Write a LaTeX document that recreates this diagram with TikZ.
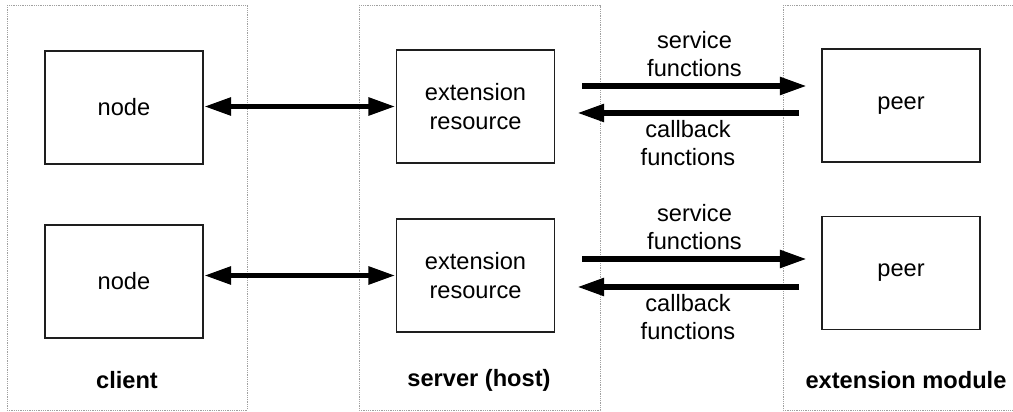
\documentclass[tikz,border=0pt]{standalone}
\usepackage{fontspec}
\setmainfont{Liberation Sans}
\usetikzlibrary{arrows.meta, positioning}
\definecolor{cline}{HTML}{1E1E1E}
\definecolor{cpanel}{HTML}{A0A0A0}
\tikzset{
  every picture/.style={font=\fontsize{16.8}{21}\selectfont, line width=1.2pt},
  box/.style={draw=cline, minimum width=3.95cm, minimum height=2.825cm, align=center, inner sep=0pt},
  panel/.style={draw=cpanel, line width=0.6pt, dash pattern=on 0.8pt off 0.8pt},
  arrow/.style={-{Triangle[length=0.68cm, width=0.42cm]}, draw=black, line width=4.2pt},
  biarrow/.style={{Triangle[length=0.68cm, width=0.42cm]}-{Triangle[length=0.68cm, width=0.42cm]}, draw=black, line width=4.2pt},
  title/.style={font=\fontsize{16.8}{21}\selectfont\bfseries},
  note/.style={align=center, inner sep=0pt, font=\fontsize{16.8}{19.5}\selectfont},
}
\begin{document}
\begin{tikzpicture}[x=0.025cm, y=-0.025cm]
  \path[use as bounding box, clip] (0,0) rectangle (1013,412);
  % panels
  \draw[panel] (7,5) rectangle (247,410);
  \draw[panel] (359,5) rectangle (600,410);
  \draw[panel] (783,5) rectangle (1040,410);
  \node[title] (client) at (127,380) {client};
  \node[title] (server) at (479,380) {server (host)};
  \node[title] (module) at (906,380) {extension module};
  % boxes
  \node[box] (node1) at (124,107.5) {node};
  \node[box] (node2) at (124,281.5) {node};
  \node[box] (res1) at (475.5,106.5) {extension\\resource};
  \node[box] (res2) at (475.5,275.5) {extension\\resource};
  \node[box] (peer1) at (901,105.5) {peer};
  \node[box] (peer2) at (901,273) {peer};
  \foreach \i/\ys/\yc in {1/86/113, 2/259/287} {
    \draw[biarrow] (node\i.east |- res\i.west) -- (res\i.west);
    \coordinate (sa\i) at (582,\ys);
    \coordinate (sb\i) at (807,\ys);
    \coordinate (ca\i) at (799,\yc);
    \coordinate (cb\i) at (577,\yc);
    \draw[arrow] (sa\i) -- node[note, yshift=0.8cm] (svc\i) {service\\functions} (sb\i);
    \draw[arrow] (ca\i) -- node[note, yshift=-0.75cm] (cbk\i) {callback\\functions} (cb\i);
  }
\end{tikzpicture}
\end{document}
